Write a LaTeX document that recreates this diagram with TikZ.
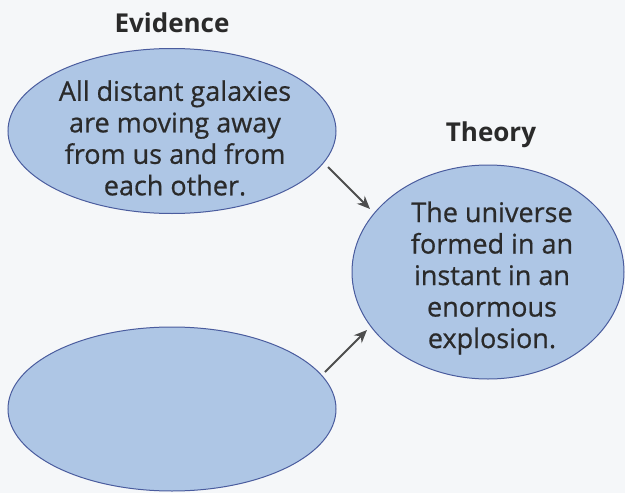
\documentclass[tikz,border=0pt]{standalone}
\usepackage{fontspec}
\setmainfont{Open Sans}
\newfontfamily\bodyfont{Open Sans}[FakeBold=0.6]
\usetikzlibrary{shapes.geometric,arrows.meta}
\definecolor{bg}{HTML}{F5F7F9}
\definecolor{bubblefill}{HTML}{AEC6E5}
\definecolor{bubbleline}{HTML}{4A5C9E}
\definecolor{txtcol}{HTML}{2A2A2A}
\definecolor{arrcol}{HTML}{4D4D4D}
\tikzset{
  bubble/.style={ellipse, draw=bubbleline, fill=bubblefill, line width=1pt, inner sep=0pt},
  bubbletext/.style={align=center, text=txtcol, font=\bodyfont\fontsize{27}{31.5}\selectfont, inner sep=0pt},
  heading/.style={text=txtcol, font=\fontsize{26}{30}\selectfont\bfseries, inner sep=0pt},
  arr/.style={draw=arrcol, line width=2pt, -{Stealth[length=13pt,width=11pt]}}
}
\begin{document}
\begin{tikzpicture}[x=1pt,y=-1pt]
\fill[bg] (0,0) rectangle (625,493);
\useasboundingbox (0,0) rectangle (625,493);
\node[heading] (evh) at (172,23) {Evidence};
\node[heading] (thh) at (491,135) {Theory};
\node[bubble, minimum width=328pt, minimum height=165pt] (ev) at (172,131) {};
\node[bubbletext] (evt) at (175,138) {All distant galaxies\\are moving away\\from us and from\\each other.};
\node[bubble, minimum width=272pt, minimum height=214pt] (th) at (488,272) {};
\node[bubbletext] (tht) at (492,278) {The universe\\formed in an\\instant in an\\enormous\\explosion.};
\node[bubble, minimum width=328pt, minimum height=164pt] (ev2) at (172,409) {};
\coordinate (a1s) at (328,167);
\coordinate (a1e) at (370,209);
\coordinate (a2s) at (325,372);
\coordinate (a2e) at (367,330);
\draw[arr] (a1s) -- (a1e);
\draw[arr] (a2s) -- (a2e);
\end{tikzpicture}
\end{document}
